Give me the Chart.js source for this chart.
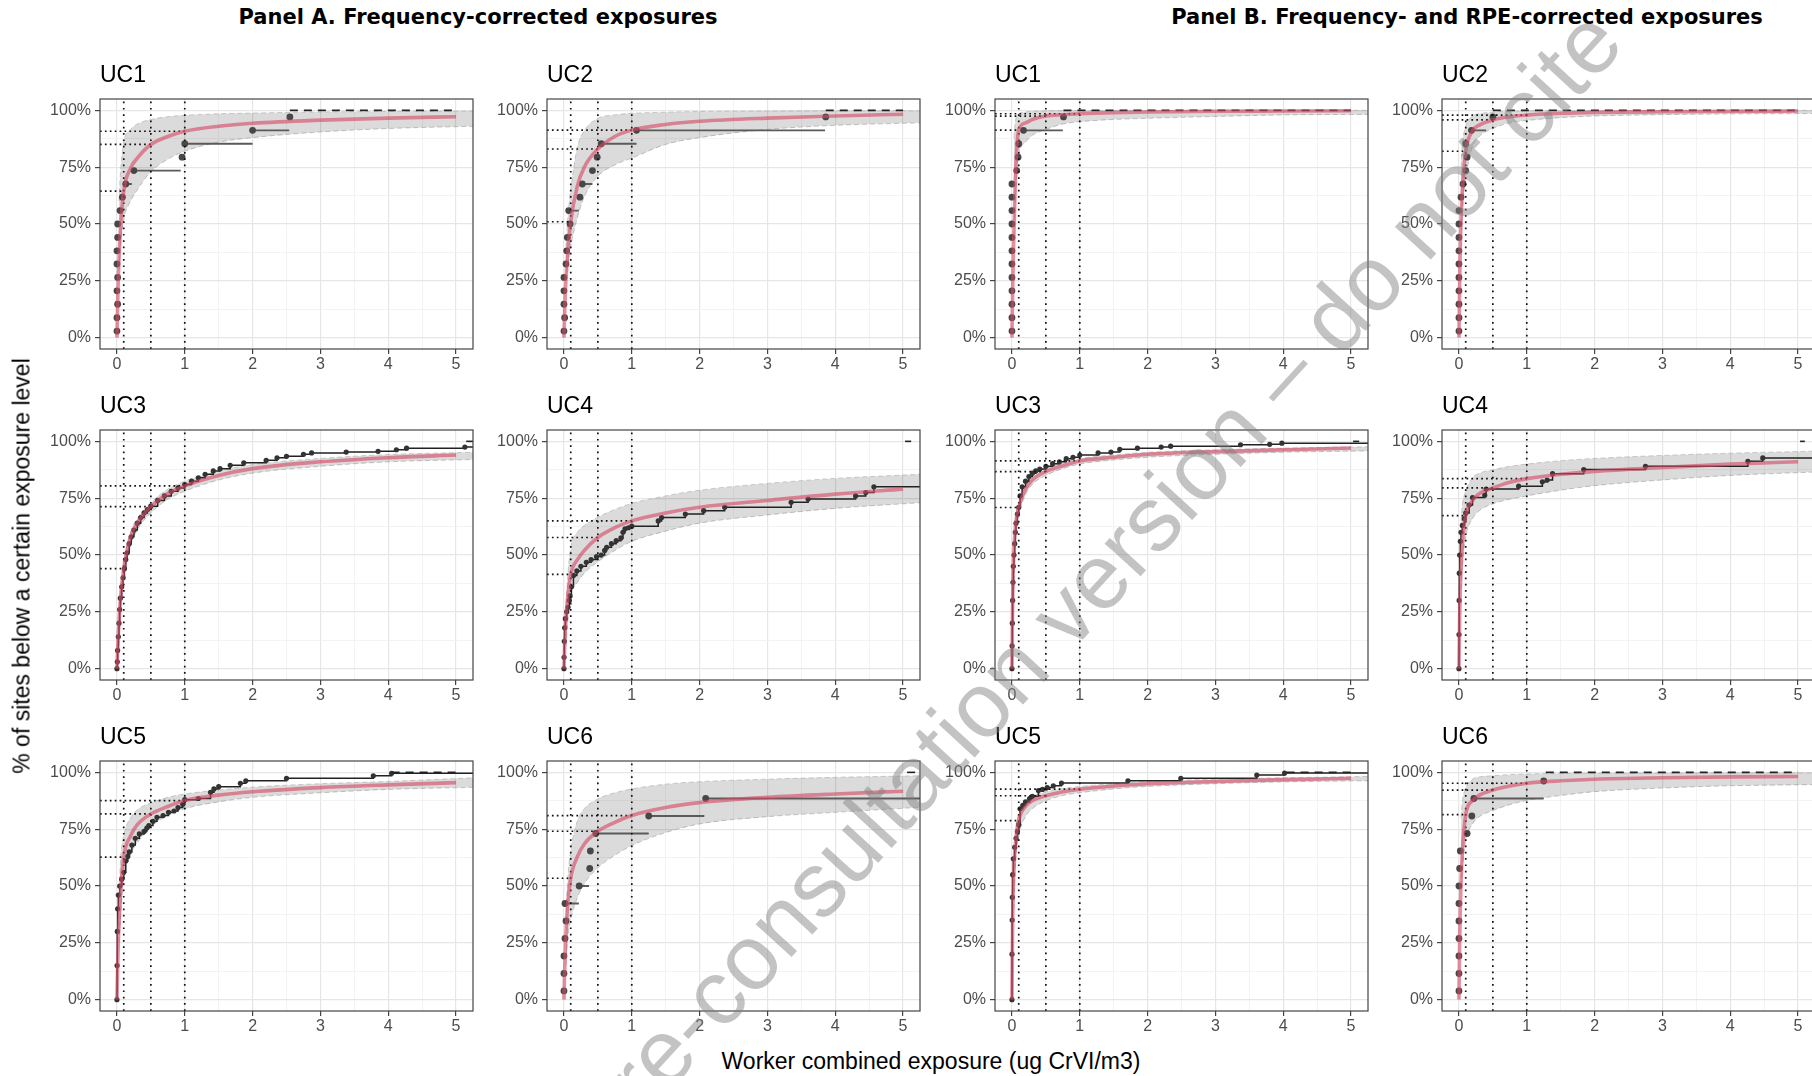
<!DOCTYPE html>
<html>
<head>
<meta charset="utf-8">
<script src="https://cdn.jsdelivr.net/npm/chart.js@4.4.1/dist/chart.umd.min.js"></script>
<style>
html, body { margin:0; padding:0; width:1812px; height:1076px; overflow:hidden; background:#fff; }
#root { position:relative; width:1812px; height:1076px; overflow:hidden; }
canvas { position:absolute; }
.ptitle { position:absolute; top:7px; font-family:"DejaVu Sans", Verdana, sans-serif; font-weight:bold; font-size:21px; line-height:1; color:#000; white-space:nowrap; transform:translateX(-50%); }
.uc { position:absolute; font-family:"Liberation Sans", Arial, sans-serif; font-size:23px; line-height:1; color:#000; white-space:nowrap; }
.axtitle { position:absolute; font-family:"Liberation Sans", Arial, sans-serif; font-size:23px; line-height:1; color:#000; white-space:nowrap; }
.wm { position:absolute; font-family:"Liberation Sans", Arial, sans-serif; font-size:92px; line-height:1; color:rgba(128,128,128,0.47); white-space:nowrap; z-index:10; pointer-events:none; }
</style>
</head>
<body>
<div id="root"></div>
<script>
// ---------- axes / tick values ----------
const X_TICKS = [0, 0.5, 1, 1.5, 2, 2.5, 3, 3.5, 4, 4.5, 5];
const Y_TICKS = [0, 12.5, 25, 37.5, 50, 62.5, 75, 87.5, 100];
const X_LIMITS = [-0.25, 5.25];
const Y_LIMITS = [-5, 105];
const REF_X = [0.1, 0.5, 1];
const PANEL_TITLES = ['Panel A. Frequency-corrected exposures', 'Panel B. Frequency- and RPE-corrected exposures'];
const UC_NAMES = ['UC1', 'UC2', 'UC3', 'UC4', 'UC5', 'UC6'];
const X_TITLE = 'Worker combined exposure (ug CrVI/m3)';
const Y_TITLE = '% of sites below a certain exposure level';
const WATERMARK = 'Pre-consultation version \u2013 do not cite';

// ---------- fitted curve (pink) sampled at CURVE_X ----------
const CURVE_X = [0, 0.01, 0.02, 0.05, 0.1, 0.2, 0.3, 0.5, 0.75, 1, 1.5, 2, 3, 4, 5];
const A_UC1_CURVE = [0, 14, 26, 47, 64.5, 74.5, 79, 85, 88.5, 90.8, 93, 94.3, 95.7, 96.6, 97.2];
const A_UC2_CURVE = [0, 11, 20, 35, 51, 67, 75, 83, 88.5, 91.3, 93.8, 95.2, 96.6, 97.5, 98.3];
const A_UC3_CURVE = [0, 8, 15, 30, 44, 58, 64, 71.3, 77, 80.4, 85, 88, 91, 92.8, 94];
const A_UC4_CURVE = [0, 10, 18, 30, 41.5, 48, 52, 57.7, 62, 65, 68.5, 71, 74, 76.8, 79];
const A_UC5_CURVE = [0, 14, 25, 45, 62.7, 72, 77, 81.7, 85, 87.6, 90, 91.5, 93.3, 94.5, 95.5];
const A_UC6_CURVE = [0, 12, 22, 40, 53.4, 63, 68.5, 74.1, 78, 81, 84.5, 86.7, 89, 90.5, 91.7];
const B_UC1_CURVE = [0, 20, 35, 70, 91.3, 94.5, 96, 97.5, 98.1, 98.5, 99, 99.3, 99.6, 99.7, 99.8];
const B_UC2_CURVE = [0, 22, 40, 65, 82, 91, 93.5, 95.8, 97.2, 97.9, 98.7, 99.1, 99.4, 99.6, 99.7];
const B_UC3_CURVE = [0, 30, 45, 62, 70.9, 79, 83, 86.7, 89.3, 91.4, 93, 94.3, 95.5, 96.3, 97.1];
const B_UC4_CURVE = [0, 22, 35, 55, 67.3, 74, 77, 79.5, 82, 83.6, 85.5, 86.8, 88.5, 90, 91];
const B_UC5_CURVE = [0, 35, 50, 68, 78.8, 85, 87.5, 89.7, 91.5, 92.6, 94, 95, 96, 96.8, 97.4];
const B_UC6_CURVE = [0, 25, 40, 65, 81.4, 87.5, 90, 92.2, 94, 95.2, 96.3, 97, 97.6, 98, 98.2];

// ---------- grey confidence band sampled at BAND_X ----------
const BAND_X = [0.03, 0.05, 0.1, 0.2, 0.3, 0.5, 0.75, 1, 1.5, 2, 3, 4, 5.25];
const A_UC1_LO = [30, 40, 52, 60, 65, 73, 78.5, 82, 86, 88, 90.5, 92, 93];
const A_UC1_HI = [60, 72, 86, 91.5, 94, 96, 97.2, 97.8, 98.5, 98.8, 99.3, 99.5, 99.7];
const A_UC2_LO = [25, 30, 40, 53, 62, 71, 76, 79, 85, 88, 91.6, 93.4, 94.5];
const A_UC2_HI = [40, 50, 65, 84, 91, 96.5, 98, 98.7, 99.2, 99.5, 99.7, 99.8, 99.8];
const A_UC3_LO = [10, 25, 40, 54, 61, 68.5, 74.5, 78, 83, 86, 89, 91, 92];
const A_UC3_HI = [18, 33, 47, 60, 66, 73, 79, 82.5, 87, 89.8, 92.5, 94.2, 95.2];
const A_UC4_LO = [10, 18, 32, 38, 42, 47, 52, 56, 60.5, 64, 67.6, 70.5, 73];
const A_UC4_HI = [25, 38, 53, 60, 63, 66.6, 70, 72.7, 76, 78.5, 81.5, 83.7, 85.5];
const A_UC5_LO = [25, 35, 54, 64, 69, 76, 81, 84, 87, 89, 91, 92.5, 93.4];
const A_UC5_HI = [45, 60, 72, 80, 83.5, 86.5, 89, 90.5, 92.2, 93.5, 95, 96, 97.6];
const A_UC6_LO = [15, 25, 35, 45, 51, 58, 63.5, 67.8, 73.5, 77.3, 80.5, 82.4, 84.6];
const A_UC6_HI = [35, 50, 65.6, 78.8, 84, 88.3, 91, 92.7, 94.8, 95.9, 97, 97.8, 98.5];
const B_UC1_LO = [45, 60, 80, 86, 89, 91.6, 94, 95, 96, 96.5, 97.3, 98, 98.2];
const B_UC1_HI = [88, 95, 98.5, 99.3, 99.6, 99.8, 99.9, 99.9, 100, 100, 100, 100, 100];
const B_UC2_LO = [40, 55, 70, 84, 88.5, 92, 94.5, 95.5, 96.8, 97.5, 98.1, 98.4, 98.6];
const B_UC2_HI = [75, 85, 93, 97.5, 98.5, 99.2, 99.6, 99.8, 99.9, 99.9, 100, 100, 100];
const B_UC3_LO = [35, 56, 67, 76.5, 81, 85, 88, 90, 91.8, 93, 94.3, 95.2, 95.8];
const B_UC3_HI = [48, 64, 73, 81, 85, 88.2, 90.5, 92.4, 94, 95.2, 96.3, 97, 97.6];
const B_UC4_LO = [35, 45, 58, 66, 69.5, 72.5, 74.5, 76, 78.5, 80.5, 83, 85, 86.5];
const B_UC4_HI = [65, 72, 78, 84, 86, 87.5, 89, 90, 91.5, 92.5, 93.8, 94.8, 95.7];
const B_UC5_LO = [40, 58, 72, 80.5, 84, 87.5, 89.8, 91, 92.7, 93.8, 95, 95.8, 96.3];
const B_UC5_HI = [55, 72, 82, 87.5, 89.5, 91.5, 92.9, 93.8, 95, 96, 97, 97.6, 98.2];
const B_UC6_LO = [50, 58, 70, 77.3, 80.5, 83.2, 85.8, 87.6, 89.8, 91.5, 93.1, 94.1, 94.6];
const B_UC6_HI = [80, 87, 93, 97, 98, 98.5, 99, 99.3, 99.5, 99.6, 99.7, 99.8, 99.8];

// ---------- empirical points (x = left end, y = %, bar = right end of interval) ----------
const A_UC1_X = [0, 0, 0.01, 0, 0.01, 0, 0, 0.01, 0.01, 0.045, 0.08, 0.13, 0.25, 0.96, 1.0, 2.0, 2.55];
const A_UC1_Y = [2.9, 8.8, 14.7, 20.6, 26.5, 32.4, 38.2, 44.1, 50, 55.9, 61.8, 67.6, 73.5, 79.4, 85.3, 91.2, 97.1];
const A_UC1_BAR = [null, null, null, null, null, null, null, null, null, null, null, 0.22, 0.94, null, 2.0, 2.54, null];
const A_UC1_DASH = [2.55, 5];

const A_UC2_X = [0, 0.01, 0, 0, 0, 0.03, 0.04, 0.05, 0.09, 0.07, 0.235, 0.27, 0.42, 0.49, 0.55, 1.07, 3.86];
const A_UC2_Y = [2.9, 8.8, 14.7, 20.6, 26.5, 32.4, 38.2, 44.1, 50, 55.9, 61.8, 67.6, 73.5, 79.4, 85.3, 91.2, 97.1];
const A_UC2_BAR = [null, null, null, null, null, null, null, null, null, 0.22, null, 0.42, null, null, 1.07, 3.85, null];
const A_UC2_DASH = [3.86, 5];

const A_UC3_X = [0, 0.005, 0.01, 0.02, 0.03, 0.04, 0.05, 0.07, 0.09, 0.11, 0.13, 0.15, 0.18, 0.21, 0.25, 0.3, 0.35, 0.4, 0.45, 0.5, 0.6, 0.7, 0.8, 0.9, 1.0, 1.1, 1.2, 1.3, 1.42, 1.52, 1.67, 1.87, 2.2, 2.36, 2.5, 2.75, 2.87, 3.38, 3.85, 4.12, 4.27, 5.13];
const A_UC3_Y = [0, 3, 8, 14, 20, 26, 31, 36, 40, 44, 48, 51, 55, 58, 61, 64, 66.5, 68.5, 70, 71.5, 74, 76, 78, 79.5, 81, 82.5, 84, 85.5, 87, 88, 89.5, 90.6, 91.7, 92.8, 93.4, 94.3, 94.9, 95.3, 95.6, 96.3, 97, 97.5];
const A_UC3_DASH = [5.15, 5.25];

const A_UC4_X = [0, 0.002, 0.005, 0.01, 0.02, 0.04, 0.06, 0.08, 0.09, 0.11, 0.14, 0.19, 0.25, 0.33, 0.4, 0.48, 0.55, 0.6, 0.63, 0.7, 0.77, 0.84, 0.87, 0.9, 0.95, 1.0, 1.39, 1.44, 1.79, 2.06, 2.37, 3.35, 3.6, 4.3, 4.45, 4.57];
const A_UC4_Y = [0, 5, 12, 18, 22, 25, 27, 30, 32, 36, 41, 43, 45, 46.8, 48, 49.3, 50, 52, 53.4, 55, 56.3, 57.5, 60, 61.5, 62, 62.7, 65, 66.5, 68, 69.5, 71, 73.2, 74.6, 76, 77.5, 80];
const A_UC4_DASH = [5.03, 5.12];

const A_UC5_X = [0, 0.002, 0.005, 0.01, 0.02, 0.04, 0.07, 0.1, 0.13, 0.16, 0.18, 0.22, 0.27, 0.33, 0.4, 0.44, 0.47, 0.53, 0.59, 0.68, 0.76, 0.84, 0.9, 0.97, 1.0, 1.2, 1.38, 1.43, 1.5, 1.82, 1.9, 2.5, 3.78, 4.05];
const A_UC5_Y = [0, 15, 30, 40, 46, 50, 53, 56, 61, 63, 65, 68, 71, 72.9, 74, 75.5, 76.6, 78.5, 80.2, 81, 82.4, 83, 84.5, 86, 88, 88.5, 91.2, 92.7, 93.7, 95.2, 96.3, 97.4, 98.5, 99.6];
const A_UC5_DASH = [4.05, 5];

const A_UC6_X = [0, 0, 0, 0.015, 0.03, 0.015, 0.225, 0.38, 0.39, 0.47, 1.25, 2.09];
const A_UC6_Y = [3.85, 11.5, 19.2, 26.9, 34.6, 42.3, 50, 57.7, 65.4, 73.1, 80.8, 88.5];
const A_UC6_BAR = [null, null, null, null, null, 0.22, 0.37, null, null, 1.25, 2.07, 5.25];
const A_UC6_DASH = [5.06, 5.25];

const B_UC1_X = [0, 0, 0, 0, 0, 0, 0, 0, 0, 0, 0, 0, 0.07, 0.09, 0.1, 0.17, 0.76];
const B_UC1_Y = [2.9, 8.8, 14.7, 20.6, 26.5, 32.4, 38.2, 44.1, 50, 55.9, 61.8, 67.6, 73.5, 79.4, 85.3, 91.2, 97.1];
const B_UC1_BAR = [null, null, null, null, null, null, null, null, null, null, null, null, null, null, null, 0.75, null];
const B_UC1_DASH = [0.76, 5];

const B_UC2_X = [0, 0, 0, 0, 0, 0, 0, 0, 0, 0, 0.03, 0.06, 0.1, 0.12, 0.1, 0.185, 0.5];
const B_UC2_Y = [2.9, 8.8, 14.7, 20.6, 26.5, 32.4, 38.2, 44.1, 50, 55.9, 61.8, 67.6, 73.5, 79.4, 85.3, 91.2, 97.1];
const B_UC2_BAR = [null, null, null, null, null, null, null, null, null, null, null, null, null, null, null, 0.4, null];
const B_UC2_DASH = [0.5, 5];

const B_UC3_X = [0, 0.002, 0.005, 0.01, 0.015, 0.02, 0.03, 0.04, 0.05, 0.06, 0.08, 0.1, 0.12, 0.15, 0.2, 0.25, 0.3, 0.35, 0.41, 0.5, 0.6, 0.7, 0.8, 0.9, 1.0, 1.27, 1.46, 1.59, 1.85, 2.2, 2.34, 3.37, 3.8, 3.98];
const B_UC3_Y = [0, 10, 20, 30, 38, 45, 50, 55, 60, 64, 68, 71, 76, 80, 82.5, 84.5, 86, 87, 87.8, 89, 90.2, 91, 92.4, 93, 94, 94.9, 95.3, 96.5, 97, 97.5, 97.9, 98.5, 98.7, 99.2];
const B_UC3_DASH = [5.03, 5.12];

const B_UC4_X = [0, 0.001, 0.003, 0.005, 0.01, 0.02, 0.03, 0.05, 0.08, 0.1, 0.15, 0.2, 0.38, 0.4, 0.88, 1.23, 1.3, 1.38, 1.84, 2.75, 4.26, 4.48];
const B_UC4_Y = [0, 15, 30, 42, 50, 56, 60, 63, 66, 68.5, 72, 75.3, 76.3, 79, 80.3, 82.2, 83, 85.8, 87.6, 89, 91.2, 92.7];
const B_UC4_DASH = [5.03, 5.1];

const B_UC5_X = [0, 0.001, 0.003, 0.005, 0.01, 0.02, 0.04, 0.06, 0.08, 0.1, 0.12, 0.16, 0.2, 0.26, 0.3, 0.39, 0.45, 0.52, 0.61, 0.73, 1.71, 2.49, 3.61, 4.02];
const B_UC5_Y = [0, 20, 35, 45, 55, 62, 67, 71, 74, 77, 84, 85.5, 87, 88.5, 89.5, 92, 92.5, 93.3, 94.1, 95.3, 96.3, 97.4, 98.8, 99.7];
const B_UC5_DASH = [4.05, 5];

const B_UC6_X = [0, 0, 0, 0, 0, 0, 0, 0.01, 0.02, 0.12, 0.19, 0.22, 1.25];
const B_UC6_Y = [3.85, 11.5, 19.2, 26.9, 34.6, 42.3, 50, 57.7, 65.4, 73.1, 80.8, 88.5, 96.2];
const B_UC6_BAR = [null, null, null, null, null, null, null, null, null, null, null, 1.25, null];
const B_UC6_DASH = [1.28, 5];

// ---------- panel table (built from the arrays above) ----------
const PANELS = [
  { uc: 0, row: 0, col: 0, curve: A_UC1_CURVE, lo: A_UC1_LO, hi: A_UC1_HI, px: A_UC1_X, py: A_UC1_Y, bar: A_UC1_BAR, step: false, dash: A_UC1_DASH },
  { uc: 1, row: 0, col: 1, curve: A_UC2_CURVE, lo: A_UC2_LO, hi: A_UC2_HI, px: A_UC2_X, py: A_UC2_Y, bar: A_UC2_BAR, step: false, dash: A_UC2_DASH },
  { uc: 2, row: 1, col: 0, curve: A_UC3_CURVE, lo: A_UC3_LO, hi: A_UC3_HI, px: A_UC3_X, py: A_UC3_Y, bar: null, step: true, dash: A_UC3_DASH },
  { uc: 3, row: 1, col: 1, curve: A_UC4_CURVE, lo: A_UC4_LO, hi: A_UC4_HI, px: A_UC4_X, py: A_UC4_Y, bar: null, step: true, dash: A_UC4_DASH },
  { uc: 4, row: 2, col: 0, curve: A_UC5_CURVE, lo: A_UC5_LO, hi: A_UC5_HI, px: A_UC5_X, py: A_UC5_Y, bar: null, step: true, dash: A_UC5_DASH },
  { uc: 5, row: 2, col: 1, curve: A_UC6_CURVE, lo: A_UC6_LO, hi: A_UC6_HI, px: A_UC6_X, py: A_UC6_Y, bar: A_UC6_BAR, step: false, dash: A_UC6_DASH },
  { uc: 0, row: 0, col: 2, curve: B_UC1_CURVE, lo: B_UC1_LO, hi: B_UC1_HI, px: B_UC1_X, py: B_UC1_Y, bar: B_UC1_BAR, step: false, dash: B_UC1_DASH },
  { uc: 1, row: 0, col: 3, curve: B_UC2_CURVE, lo: B_UC2_LO, hi: B_UC2_HI, px: B_UC2_X, py: B_UC2_Y, bar: B_UC2_BAR, step: false, dash: B_UC2_DASH },
  { uc: 2, row: 1, col: 2, curve: B_UC3_CURVE, lo: B_UC3_LO, hi: B_UC3_HI, px: B_UC3_X, py: B_UC3_Y, bar: null, step: true, dash: B_UC3_DASH },
  { uc: 3, row: 1, col: 3, curve: B_UC4_CURVE, lo: B_UC4_LO, hi: B_UC4_HI, px: B_UC4_X, py: B_UC4_Y, bar: null, step: true, dash: B_UC4_DASH },
  { uc: 4, row: 2, col: 2, curve: B_UC5_CURVE, lo: B_UC5_LO, hi: B_UC5_HI, px: B_UC5_X, py: B_UC5_Y, bar: null, step: true, dash: B_UC5_DASH },
  { uc: 5, row: 2, col: 3, curve: B_UC6_CURVE, lo: B_UC6_LO, hi: B_UC6_HI, px: B_UC6_X, py: B_UC6_Y, bar: B_UC6_BAR, step: false, dash: B_UC6_DASH }
];

// ---------- layout ----------
const PLOT_LEFT = [100, 547, 995, 1442];
const PLOT_TOP = [99, 430, 761];
const PW = 373, PH = 250;
const YW = 70, PT = 14, PR = 10, XH = 34;
const FONT = '"Liberation Sans", Arial, sans-serif';

const root = document.getElementById('root');

function addDiv(cls, text, css) {
  const d = document.createElement('div');
  d.className = cls;
  d.textContent = text;
  Object.assign(d.style, css);
  root.appendChild(d);
  return d;
}

const borderPlugin = {
  id: 'panelBorder',
  afterDraw(chart) {
    const a = chart.chartArea, c = chart.ctx;
    c.save();
    c.strokeStyle = '#444';
    c.lineWidth = 1.2;
    c.strokeRect(a.left, a.top, a.right - a.left, a.bottom - a.top);
    c.restore();
  }
};

function isMajorX(v) { return Number.isInteger(v); }
function isMajorY(v) { return v % 25 === 0; }

function makePanel(p) {
  const canvas = document.createElement('canvas');
  const W = YW + PW + PR, H = PT + PH + XH;
  canvas.width = W; canvas.height = H;
  canvas.style.width = W + 'px'; canvas.style.height = H + 'px';
  canvas.style.left = (PLOT_LEFT[p.col] - YW) + 'px';
  canvas.style.top = (PLOT_TOP[p.row] - PT) + 'px';
  root.appendChild(canvas);

  addDiv('uc', UC_NAMES[p.uc], { left: PLOT_LEFT[p.col] + 'px', top: (PLOT_TOP[p.row] - 36) + 'px' });

  const ds = [];
  // band (upper filled to lower)
  ds.push({
    type: 'line', data: BAND_X.map((x, i) => ({ x, y: p.hi[i] })),
    borderColor: 'rgba(170,170,170,0.6)', borderWidth: 1, borderDash: [5, 3],
    backgroundColor: 'rgba(0,0,0,0.14)', fill: '+1', pointRadius: 0,
    cubicInterpolationMode: 'monotone', order: 9
  });
  ds.push({
    type: 'line', data: BAND_X.map((x, i) => ({ x, y: p.lo[i] })),
    borderColor: 'rgba(170,170,170,0.6)', borderWidth: 1, borderDash: [5, 3],
    fill: false, pointRadius: 0, cubicInterpolationMode: 'monotone', order: 9
  });
  // empirical
  if (p.step) {
    const pts = p.px.map((x, i) => ({ x, y: p.py[i] }));
    pts.push({ x: X_LIMITS[1], y: p.py[p.py.length - 1] });
    ds.push({
      type: 'line', data: pts, stepped: true, borderColor: '#222', borderWidth: 1.5,
      pointRadius: pts.map((_, i) => i === pts.length - 1 ? 0 : 2.6),
      pointBackgroundColor: '#333', pointBorderWidth: 0, fill: false, order: 5
    });
  } else {
    const segs = [];
    p.px.forEach((x, i) => {
      if (p.bar[i] !== null) {
        segs.push({ x, y: p.py[i] }, { x: p.bar[i], y: p.py[i] }, { x: p.bar[i], y: null });
      }
    });
    ds.push({ type: 'line', data: segs, borderColor: '#5a5a5a', borderWidth: 1.8, pointRadius: 0, fill: false, spanGaps: false, order: 5 });
    ds.push({
      type: 'scatter', data: p.px.map((x, i) => ({ x, y: p.py[i] })), showLine: false,
      pointRadius: 3.4, pointBackgroundColor: '#474747', pointBorderWidth: 0, order: 4
    });
  }
  // dashed 100% line
  ds.push({
    type: 'line', data: [{ x: p.dash[0], y: 100 }, { x: p.dash[1], y: 100 }],
    borderColor: '#222', borderWidth: 1.6, borderDash: [8, 6], pointRadius: 0, fill: false, order: 3
  });
  // dotted reference lines
  const vert = [], horiz = [];
  REF_X.forEach(rx => {
    const yv = p.curve[CURVE_X.indexOf(rx)];
    vert.push({ x: rx, y: Y_LIMITS[0] }, { x: rx, y: Y_LIMITS[1] }, { x: rx, y: null });
    horiz.push({ x: X_LIMITS[0], y: yv }, { x: rx, y: yv }, { x: rx, y: null });
  });
  ds.push({ type: 'line', data: vert, borderColor: '#111', borderWidth: 1.7, borderDash: [1.7, 4.6], pointRadius: 0, fill: false, spanGaps: false, order: 2 });
  ds.push({ type: 'line', data: horiz, borderColor: '#111', borderWidth: 1.7, borderDash: [1.7, 3.2], pointRadius: 0, fill: false, spanGaps: false, order: 2 });
  // fitted curve
  ds.push({
    type: 'line', data: CURVE_X.map((x, i) => ({ x, y: p.curve[i] })),
    borderColor: 'rgba(212,72,102,0.62)', borderWidth: 3.6, pointRadius: 0,
    cubicInterpolationMode: 'monotone', fill: false, order: 1
  });

  new Chart(canvas, {
    type: 'scatter',
    data: { datasets: ds },
    plugins: [borderPlugin],
    options: {
      responsive: false, animation: false, devicePixelRatio: 1, events: [],
      layout: { padding: { top: PT, right: PR, left: 0, bottom: 0 } },
      plugins: { legend: { display: false }, tooltip: { enabled: false }, title: { display: false } },
      scales: {
        x: {
          type: 'linear', min: X_LIMITS[0], max: X_LIMITS[1],
          afterBuildTicks: s => { s.ticks = X_TICKS.map(v => ({ value: v })); },
          afterFit: s => { s.height = XH; },
          ticks: {
            autoSkip: false, maxRotation: 0, minRotation: 0, padding: 1, color: '#4d4d4d',
            font: { family: FONT, size: 16 },
            callback: v => isMajorX(v) ? String(v) : ''
          },
          grid: {
            color: c => (c.tick && isMajorX(c.tick.value)) ? '#e6e6e6' : '#f0f0f0',
            lineWidth: c => (c.tick && isMajorX(c.tick.value)) ? 1.2 : 0.8,
            tickColor: c => (c.tick && isMajorX(c.tick.value)) ? '#444' : 'rgba(0,0,0,0)',
            tickLength: 5, drawTicks: true
          },
          border: { display: false }
        },
        y: {
          type: 'linear', min: Y_LIMITS[0], max: Y_LIMITS[1],
          afterBuildTicks: s => { s.ticks = Y_TICKS.map(v => ({ value: v })); },
          afterFit: s => { s.width = YW; },
          ticks: {
            autoSkip: false, padding: 4, color: '#4d4d4d',
            font: { family: FONT, size: 16 },
            callback: v => isMajorY(v) ? v + '%' : ''
          },
          grid: {
            color: c => (c.tick && isMajorY(c.tick.value)) ? '#e6e6e6' : '#f0f0f0',
            lineWidth: c => (c.tick && isMajorY(c.tick.value)) ? 1.2 : 0.8,
            tickColor: c => (c.tick && isMajorY(c.tick.value)) ? '#444' : 'rgba(0,0,0,0)',
            tickLength: 5, drawTicks: true
          },
          border: { display: false }
        }
      }
    }
  });
}

PANELS.forEach(makePanel);

// titles
addDiv('ptitle', PANEL_TITLES[0], { left: '478px' });
addDiv('ptitle', PANEL_TITLES[1], { left: '1467px' });
addDiv('axtitle', X_TITLE, { left: '931px', top: '1061px', transform: 'translate(-50%,-50%)' });
addDiv('axtitle', Y_TITLE, { left: '22px', top: '566px', transform: 'translate(-50%,-50%) rotate(-90deg)' });
addDiv('wm', WATERMARK, { left: '1092px', top: '582px', transform: 'translate(-50%,-50%) rotate(-47.5deg)' });
</script>
</body>
</html>
